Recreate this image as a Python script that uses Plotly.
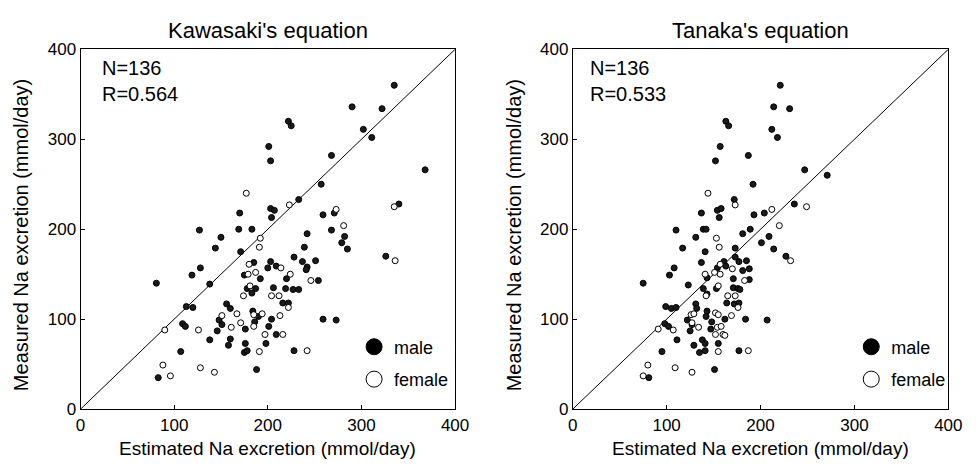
import plotly.graph_objects as go

# ---------------- data ----------------
# Kawasaki's equation (left panel): estimated (x) vs measured (y)
kaw_male_x = [335, 290, 322, 222, 225, 302, 311, 201, 203, 268, 257, 233, 170, 203, 207, 204, 259, 271, 340,
              169, 183, 268, 368,
              127, 150, 144, 171, 128, 119, 81, 138, 113, 120, 109, 112, 156, 160, 148, 151, 146, 138, 160, 158,
              107, 83,
              242, 239, 282, 279, 285, 326, 185, 203, 200, 209, 228, 237, 242, 241, 251, 220, 254, 175, 192, 178,
              187, 183, 206, 219, 227, 233, 216, 222, 259, 273, 184, 190, 186, 204, 201, 176, 209, 176, 198, 175,
              178, 228, 188]
kaw_male_y = [360, 336, 334, 320, 315, 311, 302, 292, 276, 282, 250, 233, 218, 223, 221, 213, 216, 218, 228,
              200, 200, 199, 266,
              199, 191, 179, 175, 157, 149, 140, 139, 114, 113, 95, 92, 117, 112, 99, 94, 87, 77, 78, 71,
              64, 35,
              195, 180, 192, 185, 178, 170, 163, 164, 157, 159, 169, 164, 158, 155, 165, 145, 143, 149, 145, 134,
              134, 129, 135, 134, 133, 133, 118, 118, 100, 99, 109, 103, 97, 100, 92, 89, 83, 73, 73, 63,
              65, 65, 44]
kaw_female_x = [177, 223, 273, 281, 335,
                90, 126, 151, 161, 167, 171, 88, 96, 128, 143,
                192, 191, 336, 180, 214, 224, 246, 179, 187, 181, 174, 204, 212, 222, 213, 185, 194, 185, 197,
                216, 191, 242]
kaw_female_y = [240, 227, 222, 204, 225,
                88, 88, 104, 91, 106, 96, 49, 37, 46, 41,
                190, 180, 165, 161, 157, 150, 143, 150, 152, 137, 126, 126, 126, 113, 104, 105, 106, 92, 83,
                83, 64, 65]

# Tanaka's equation (right panel)
tan_male_x = [221, 214, 231, 163, 166, 212, 218, 157, 152, 187, 247, 271, 192, 172, 236, 137, 154, 158, 156,
              193, 204, 139, 142, 189,
              110, 131, 117, 141, 137, 108, 103, 75, 123, 143, 139, 143, 99, 105, 110, 131, 132, 143, 98, 102,
              122, 125, 127, 142, 111, 138, 141, 129, 141, 135, 95, 81,
              181, 201, 209, 214, 227, 173, 161, 163, 173, 177, 185, 181, 188, 154, 171, 188, 153, 171, 176,
              178, 164, 172, 177, 184, 207, 148, 162, 147, 155, 177, 151]
tan_male_y = [360, 336, 334, 320, 315, 311, 302, 292, 276, 282, 266, 260, 250, 233, 228, 218, 221, 223, 213,
              216, 218, 200, 200, 200,
              199, 191, 179, 175, 163, 157, 149, 140, 138, 146, 134, 128, 114, 112, 113, 117, 112, 109, 95, 92,
              99, 87, 94, 103, 77, 77, 73, 71, 65, 63, 64, 35,
              195, 185, 192, 178, 170, 179, 164, 159, 169, 164, 165, 154, 156, 157, 145, 144, 134, 135, 134,
              133, 118, 117, 118, 100, 99, 97, 100, 89, 73, 65, 44]
tan_female_x = [144, 173, 212, 249, 220, 141, 142, 91, 107, 126, 129, 134, 80, 75, 109, 127,
                151, 157, 157, 183, 155, 165, 173, 176, 169, 152, 155, 154, 158, 127, 152, 160, 162, 155, 187,
                153, 156, 170, 232]
tan_female_y = [240, 227, 222, 225, 204, 150, 126, 89, 88, 105, 106, 91, 49, 37, 46, 41,
                152, 150, 161, 143, 137, 126, 126, 113, 104, 107, 105, 91, 92, 96, 83, 83, 82, 64, 65,
                190, 180, 156, 165]

identity = [0, 400]
tick_vals = [0, 100, 200, 300, 400]
panel_titles = ["Kawasaki's equation", "Tanaka's equation"]
stats_text = ["N=136<br>R=0.564", "N=136<br>R=0.533"]
x_title = "Estimated Na excretion (mmol/day)"
y_title = "Measured Na excretion (mmol/day)"
legend_labels = ["male", "female"]

# ---------------- figure ----------------
FONT = "Liberation Sans, Arial, Helvetica, sans-serif"
W, H = 979, 470
male_marker = dict(size=6, color="#1a1a1a", line=dict(color="black", width=1))
female_marker = dict(size=6, color="white", line=dict(color="black", width=1))

fig = go.Figure()
panels = [
    ("x", "y", kaw_male_x, kaw_male_y, kaw_female_x, kaw_female_y, "legend"),
    ("x2", "y2", tan_male_x, tan_male_y, tan_female_x, tan_female_y, "legend2"),
]
for xa, ya, mx, my, fx, fy, lg in panels:
    fig.add_trace(go.Scatter(x=identity, y=identity, mode="lines", xaxis=xa, yaxis=ya,
                             line=dict(color="black", width=1), showlegend=False, hoverinfo="skip"))
    fig.add_trace(go.Scatter(x=mx, y=my, mode="markers", xaxis=xa, yaxis=ya,
                             marker=male_marker, showlegend=False))
    fig.add_trace(go.Scatter(x=fx, y=fy, mode="markers", xaxis=xa, yaxis=ya,
                             marker=female_marker, showlegend=False))
    # legend entries (large symbols as in the original key)
    fig.add_trace(go.Scatter(x=[None], y=[None], mode="markers", xaxis=xa, yaxis=ya,
                             name=legend_labels[0], legend=lg, legendgroup=lg + "m",
                             marker=dict(size=16, color="black", line=dict(color="black", width=1))))
    fig.add_trace(go.Scatter(x=[None], y=[None], mode="markers", xaxis=xa, yaxis=ya,
                             name=legend_labels[1], legend=lg, legendgroup=lg + "f",
                             marker=dict(size=16, color="white", line=dict(color="black", width=1))))

left_dom = [77 / W, 459 / W]
right_dom = [579 / W, 962 / W]
y_dom = [1 - 417 / H, 1 - 42 / H]

axis_common = dict(range=[0, 400], tickvals=tick_vals, ticks="inside", ticklen=4, tickcolor="black",
                   showline=True, linecolor="black", linewidth=1, mirror=True, showgrid=False,
                   zeroline=False, tickfont=dict(family=FONT, size=17, color="black"), fixedrange=True)

legend_common = dict(font=dict(family=FONT, size=18, color="black"), bgcolor="rgba(0,0,0,0)",
                     traceorder="grouped", tracegroupgap=6, itemsizing="trace",
                     xanchor="left", yanchor="top")

fig.update_layout(
    width=W, height=H,
    margin=dict(l=0, r=0, t=0, b=0),
    paper_bgcolor="white", plot_bgcolor="white",
    font=dict(family=FONT, color="black"),
    xaxis=dict(domain=left_dom, anchor="y", **axis_common),
    yaxis=dict(domain=y_dom, anchor="x", **axis_common),
    xaxis2=dict(domain=right_dom, anchor="y2", **axis_common),
    yaxis2=dict(domain=y_dom, anchor="x2", **axis_common),
    legend=dict(x=(378 - 22) / W, y=1 - 333 / H, **legend_common),
    legend2=dict(x=(885 - 22) / W, y=1 - 333 / H, **legend_common),
    showlegend=True,
)

annotations = []
for i, dom in enumerate([left_dom, right_dom]):
    cx = (dom[0] + dom[1]) / 2
    annotations.append(dict(text=panel_titles[i], x=cx, y=1 - 22 / H, xref="paper", yref="paper",
                            xanchor="center", yanchor="middle", showarrow=False,
                            font=dict(family=FONT, size=22, color="black")))
    annotations.append(dict(text=x_title, x=cx, y=1 - 458 / H, xref="paper", yref="paper",
                            xanchor="center", yanchor="middle", showarrow=False,
                            font=dict(family=FONT, size=19, color="black")))
y_mid = 1 - 236 / H
annotations.append(dict(text=y_title, x=17 / W, y=y_mid, xref="paper", yref="paper",
                        xanchor="center", yanchor="middle", textangle=-90, showarrow=False,
                        font=dict(family=FONT, size=20, color="black")))
annotations.append(dict(text=y_title, x=520 / W, y=y_mid, xref="paper", yref="paper",
                        xanchor="center", yanchor="middle", textangle=-90, showarrow=False,
                        font=dict(family=FONT, size=20, color="black")))
annotations.append(dict(text=stats_text[0], x=21, y=394, xref="x", yref="y", xanchor="left", yanchor="top",
                        align="left", showarrow=False, font=dict(family=FONT, size=20, color="black")))
annotations.append(dict(text=stats_text[1], x=16, y=394, xref="x2", yref="y2", xanchor="left", yanchor="top",
                        align="left", showarrow=False, font=dict(family=FONT, size=20, color="black")))
fig.update_layout(annotations=annotations)

fig.write_html("out.html", config={"displayModeBar": False})
